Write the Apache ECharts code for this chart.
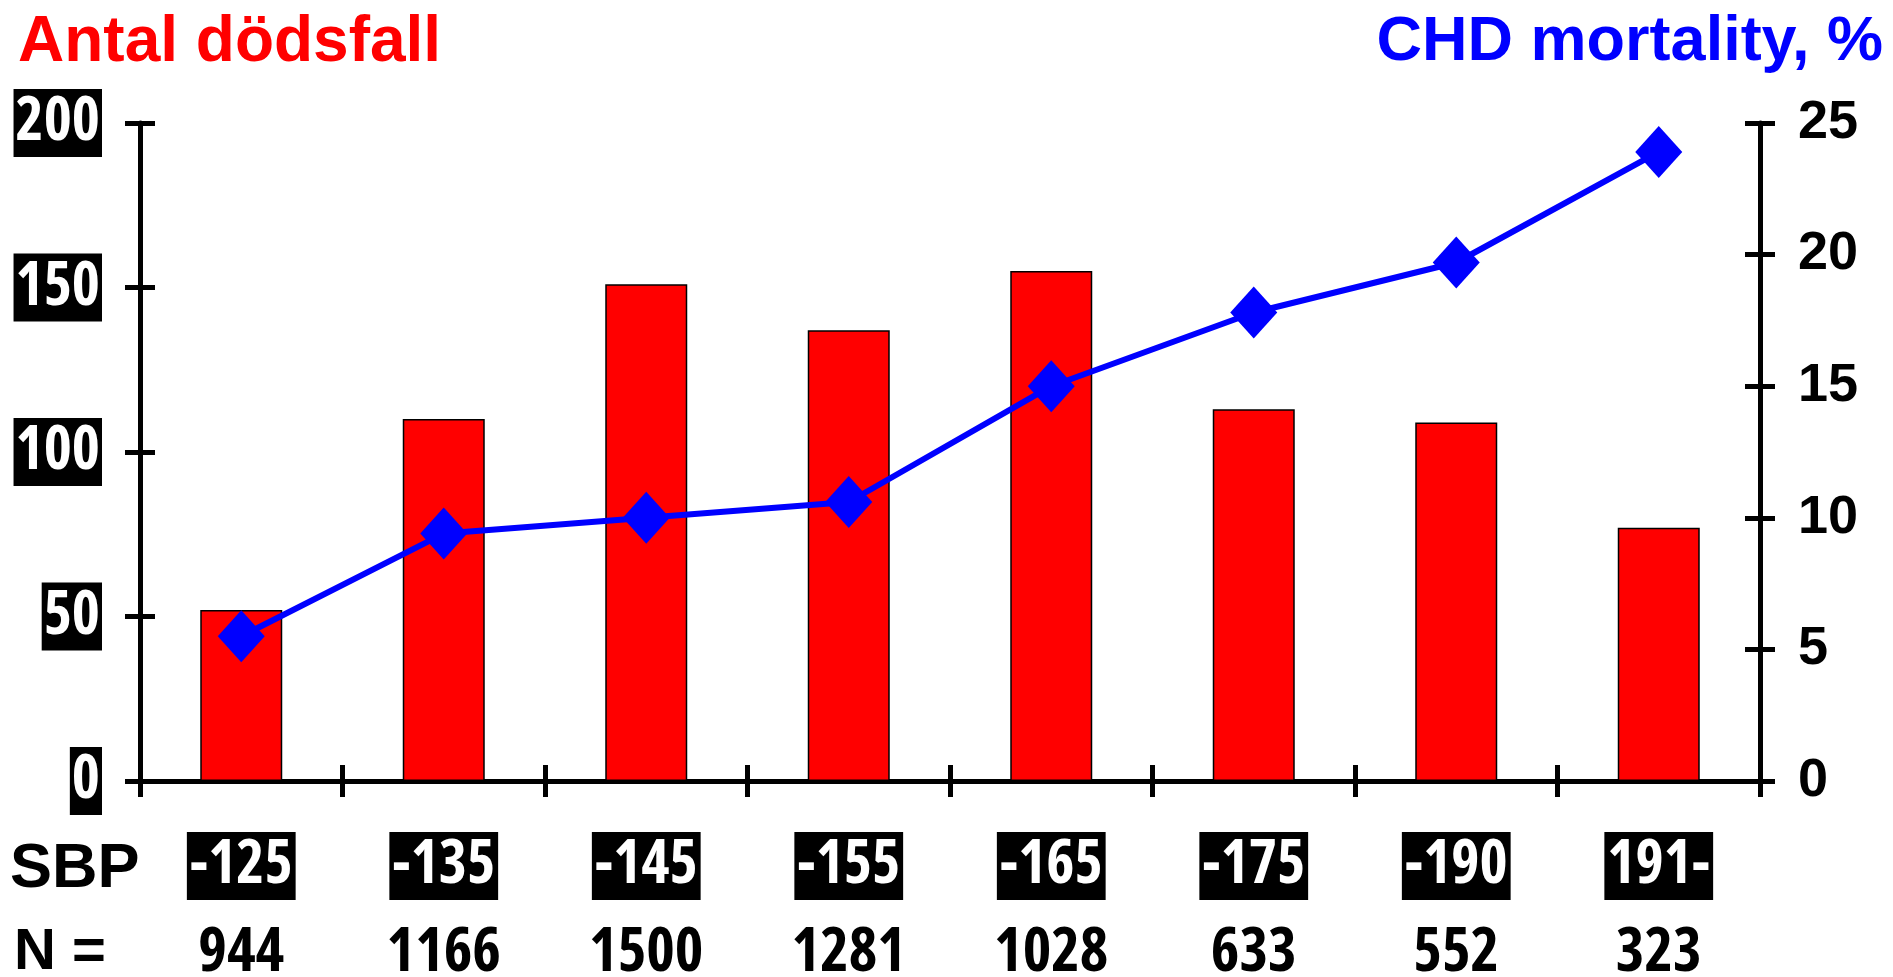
<!DOCTYPE html>
<html>
<head>
<meta charset="utf-8">
<script src="https://cdn.jsdelivr.net/npm/echarts@6/dist/echarts.min.js"></script>
<style>
  html, body { margin: 0; padding: 0; background: #fff; }
  #chart { width: 1893px; height: 977px; }
</style>
</head>
<body>
<div id="chart"></div>
<script>
// Blood pressure groups (SBP, mmHg) and group sizes
const sbpGroups = ['-125', '-135', '-145', '-155', '-165', '-175', '-190', '191-'];
const groupSizes = ['944', '1166', '1500', '1281', '1028', '633', '552', '323'];
// Number of deaths per group (bars, left axis)
const deaths = [52, 110, 151, 137, 155, 113, 109, 77];
// CHD mortality per group in percent (line, right axis)
const chdMortality = [5.5, 9.4, 10.0, 10.6, 15.0, 17.8, 19.7, 23.9];

const SANS = '"Liberation Sans", Arial, sans-serif';
// Open Sans is a variable-width face, so the stretch keyword gives a narrow cut
const NARROW = '"Open Sans", "Liberation Sans", sans-serif';
const NARROW_WEIGHT = 'bold condensed';

const chart = echarts.init(document.getElementById('chart'), null, { renderer: 'canvas' });

const axisLine = { show: true, lineStyle: { color: '#000', width: 5 } };
const tickStyle = { color: '#000', width: 5 };

chart.setOption({
  animation: false,
  backgroundColor: '#fff',
  title: [
    {
      text: 'Antal dödsfall',
      left: 13, top: 6,
      textStyle: { color: '#ff0000', fontFamily: SANS, fontWeight: 'bold', fontSize: 64, lineHeight: 64 }
    },
    {
      text: 'CHD mortality, %',
      right: 5, top: 6,
      textStyle: { color: '#0000ff', fontFamily: SANS, fontWeight: 'bold', fontSize: 63, lineHeight: 64 }
    }
  ],
  graphic: [
    {
      type: 'text', left: 10, top: 838,
      style: { text: 'SBP', fill: '#000', font: 'bold 63px ' + SANS }
    },
    {
      type: 'text', left: 14, top: 924,
      style: { text: 'N =', fill: '#000', font: 'bold 58px ' + SANS }
    }
  ],
  grid: { left: 140, right: 133, top: 123, bottom: 196, outerBoundsMode: 'none', containLabel: false },
  xAxis: [
    {
      type: 'category', data: sbpGroups, position: 'bottom', boundaryGap: true,
      axisLine: axisLine,
      axisTick: { show: true, inside: false, length: 16, interval: 0, lineStyle: tickStyle },
      axisLabel: {
        interval: 0, margin: 51, color: '#fff', backgroundColor: '#000',
        fontFamily: NARROW, fontWeight: NARROW_WEIGHT, fontSize: 60, lineHeight: 60, padding: [4, 3, 4, 3]
      },
      splitLine: { show: false }
    },
    {
      type: 'category', data: groupSizes, position: 'bottom', offset: 0, boundaryGap: true,
      axisLine: { show: false },
      axisTick: { show: true, inside: true, length: 16, interval: 0, lineStyle: tickStyle },
      axisLabel: {
        interval: 0, margin: 143, color: '#000',
        fontFamily: NARROW, fontWeight: NARROW_WEIGHT, fontSize: 61, lineHeight: 60
      },
      splitLine: { show: false }
    }
  ],
  yAxis: [
    {
      type: 'value', position: 'left', offset: 0, min: 0, max: 200, interval: 50,
      axisLine: axisLine,
      axisTick: { show: true, inside: false, length: 15, lineStyle: tickStyle },
      axisLabel: {
        margin: 38, color: '#fff', backgroundColor: '#000',
        fontFamily: NARROW, fontWeight: NARROW_WEIGHT, fontSize: 60, lineHeight: 60, padding: [4, 2, 4, 2]
      },
      splitLine: { show: false }
    },
    {
      type: 'value', position: 'right', offset: 0, min: 0, max: 25, interval: 5,
      axisLine: axisLine,
      axisTick: { show: true, inside: false, length: 15, lineStyle: tickStyle },
      axisLabel: {
        margin: 38, color: '#000',
        fontFamily: SANS, fontWeight: 'bold', fontSize: 54
      },
      splitLine: { show: false }
    },
    {
      type: 'value', position: 'left', offset: 0, min: 0, max: 200, interval: 50,
      axisLine: { show: false },
      axisTick: { show: true, inside: true, length: 15, lineStyle: tickStyle },
      axisLabel: { show: false },
      splitLine: { show: false }
    },
    {
      type: 'value', position: 'right', offset: 0, min: 0, max: 25, interval: 5,
      axisLine: { show: false },
      axisTick: { show: true, inside: true, length: 15, lineStyle: tickStyle },
      axisLabel: { show: false },
      splitLine: { show: false }
    }
  ],
  series: [
    {
      name: 'Antal dödsfall', type: 'bar', xAxisIndex: 0, yAxisIndex: 0,
      data: deaths, barWidth: 82,
      itemStyle: { color: '#ff0000', borderColor: '#000', borderWidth: 1.5 },
      z: 2
    },
    {
      name: 'CHD mortality, %', type: 'line', xAxisIndex: 0, yAxisIndex: 1,
      data: chdMortality,
      lineStyle: { color: '#0000ff', width: 6 },
      symbol: 'diamond', symbolSize: [47, 52],
      itemStyle: { color: '#0000ff' },
      z: 3
    }
  ]
});
</script>
</body>
</html>
